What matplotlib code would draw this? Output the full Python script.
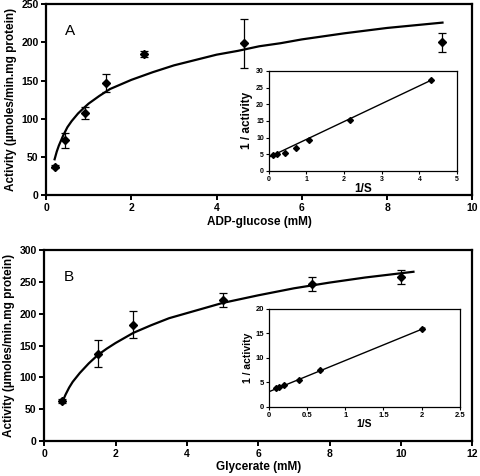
import numpy as np
import matplotlib
matplotlib.use("Agg")
import matplotlib.pyplot as plt

plt.rcParams['font.family'] = ['Liberation Sans', 'DejaVu Sans']
plt.rcParams['font.weight'] = 'bold'

# panel A: ADP-glucose saturation
adp_x = [0.2, 0.45, 0.92, 1.4, 2.3, 4.65, 9.3]
adp_y = [37, 72, 108, 147, 185, 199, 200]
adp_err = [2, 10, 8, 12, 4, 32, 13]
adp_fit_x = [0.2, 0.25, 0.3, 0.4, 0.5, 0.6, 0.75, 0.9, 1, 1.25, 1.5, 1.75, 2, 2.5,
             3, 3.5, 4, 4.5, 5, 5.5, 6, 7, 8, 9.3]
adp_fit_y = [47, 57, 65, 78, 89, 97, 107, 115, 120, 130, 139, 145, 151, 161,
             170, 177, 184, 189, 195, 199, 204, 212, 219, 226]
adp_inv_s = [0.1, 0.22, 0.43, 0.71, 1.08, 2.17, 4.3]
adp_inv_v = [4.8, 5.0, 5.3, 6.9, 9.3, 15.2, 27.2]
adp_line_x = [0, 4.35]
adp_line_y = [4.1, 27.4]

# panel B: glycerate saturation
gly_x = [0.5, 1.5, 2.5, 5, 7.5, 10]
gly_y = [63, 137, 183, 222, 247, 258]
gly_err = [3, 21, 21, 11, 11, 11]
gly_fit_x = [0.53, 0.6, 0.7, 0.8, 0.9, 1, 1.25, 1.5, 1.75, 2, 2.5, 3, 3.5, 4,
             4.5, 5, 6, 7, 8, 9, 10.35]
gly_fit_y = [64, 73, 84, 93, 100, 107, 122, 135, 145, 154, 170, 182, 193, 201,
             209, 217, 229, 240, 249, 257, 266]
gly_inv_s = [0.1, 0.133, 0.2, 0.4, 0.667, 2.0]
gly_inv_v = [3.9, 4.1, 4.5, 5.6, 7.5, 16.0]
gly_line_x = [0, 2.04]
gly_line_y = [3.1, 16.1]

ylab = 'Activity (\u00b5moles/min.mg protein)'

fig = plt.figure(figsize=(4.8, 4.76), dpi=100)


def main_panel(rect, x, y, err, fx, fy, xmax, ymax, xstep, ystep, xlabel, letter):
    ax = fig.add_axes(rect)
    ax.plot(fx, fy, color='black', lw=1.6, zorder=2, solid_joinstyle='round')
    ax.errorbar(x, y, yerr=err, fmt='D', color='black', ms=4.5,
                ecolor='black', elinewidth=0.9, capsize=3, capthick=0.9, zorder=3)
    ax.set_xlim(0, xmax)
    ax.set_ylim(0, ymax)
    ax.set_xticks(np.arange(0, xmax + 0.01, xstep))
    ax.set_yticks(np.arange(0, ymax + 0.01, ystep))
    ax.tick_params(direction='out', length=3.5, width=1.4, labelsize=7.5, pad=2)
    for s in ax.spines.values():
        s.set_linewidth(1.6)
    ax.set_xlabel(xlabel, fontsize=8.5, fontweight='bold', labelpad=2)
    ax.set_ylabel(ylab, fontsize=8.5, fontweight='bold', labelpad=3)
    ax.text(0.045, 0.86, letter, transform=ax.transAxes, fontsize=11,
            fontweight='normal', va='center', ha='left')
    return ax


def inset_panel(rect, x, y, lx, ly, xmax, xstep, ymax, ystep, xfmt, lsize, tsize):
    ax = fig.add_axes(rect)
    ax.plot(lx, ly, color='black', lw=1.0, zorder=2)
    ax.plot(x, y, 'D', color='black', ms=3, zorder=3)
    ax.set_xlim(0, xmax)
    ax.set_ylim(0, ymax)
    xt = np.arange(0, xmax + 0.001, xstep)
    ax.set_xticks(xt)
    ax.set_xticklabels([xfmt(v) for v in xt])
    ax.set_yticks(np.arange(0, ymax + 0.01, ystep))
    ax.tick_params(direction='out', length=2, width=0.8, labelsize=tsize, pad=1.5)
    for s in ax.spines.values():
        s.set_linewidth(0.9)
    ax.set_xlabel('1/S', fontsize=lsize, fontweight='bold', labelpad=0)
    ax.set_ylabel('1 / activity', fontsize=lsize, fontweight='bold', labelpad=2)
    return ax


main_panel([0.096, 0.590, 0.888, 0.401], adp_x, adp_y, adp_err,
           adp_fit_x, adp_fit_y, 10, 250, 2, 50, 'ADP-glucose (mM)', 'A')
main_panel([0.092, 0.0735, 0.892, 0.401], gly_x, gly_y, gly_err,
           gly_fit_x, gly_fit_y, 12, 300, 2, 50, 'Glycerate (mM)', 'B')

inset_panel([0.560, 0.641, 0.392, 0.210], adp_inv_s, adp_inv_v,
            adp_line_x, adp_line_y, 5, 1, 30, 5, lambda v: '%d' % v, 8.5, 5)
inset_panel([0.560, 0.145, 0.398, 0.206], gly_inv_s, gly_inv_v,
            gly_line_x, gly_line_y, 2.5, 0.5, 20, 5, lambda v: '%g' % v, 7.5, 5.5)

fig.savefig('out.png', dpi=100)
